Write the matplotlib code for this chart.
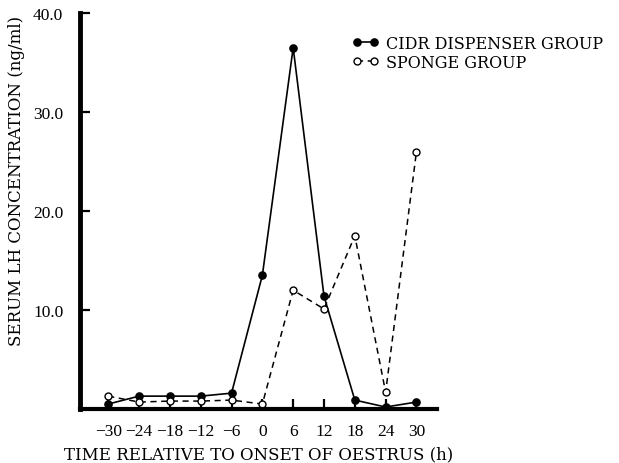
import matplotlib
matplotlib.use("Agg")
import matplotlib.pyplot as plt

hours = [-30, -24, -18, -12, -6, 0, 6, 12, 18, 24, 30]
cidr = [0.5, 1.3, 1.3, 1.3, 1.6, 13.5, 36.5, 11.4, 0.9, 0.2, 0.7]
sponge = [1.3, 0.7, 0.8, 0.8, 0.9, 0.5, 12.0, 10.1, 17.5, 1.7, 26.0]
yticks = [10, 20, 30, 40]
ytick_labels = ["10.0", "20.0", "30.0", "40.0"]
xtick_labels = ["\u221230", "\u221224", "\u221218", "\u221212", "\u22126", "0", "6", "12", "18", "24", "30"]

plt.rcParams['font.family'] = ['Liberation Serif', 'DejaVu Serif']

fig = plt.figure(figsize=(6.19, 4.64), dpi=100)
ax = fig.add_axes([80/619, 1-410/464, (437-80)/619, (410-14)/464])

ax.plot(hours, cidr, '-', color='black', lw=1.2, marker='o', ms=5.2,
        mfc='black', mec='black', label='CIDR DISPENSER GROUP')
ax.plot(hours, sponge, '--', color='black', lw=1.1, dashes=(4, 3), marker='o', ms=5,
        mfc='white', mec='black', mew=1.0, label='SPONGE GROUP')

ax.set_xlim(-35.5, 34)
ax.set_ylim(0, 40)
ax.set_xticks(hours)
ax.set_xticklabels(xtick_labels, fontsize=12.5)
ax.set_yticks(yticks)
ax.set_yticklabels(ytick_labels, fontsize=12.5)
ax.tick_params(direction='in', length=7, width=1.6)
ax.tick_params(axis='y', pad=12)
ax.tick_params(axis='x', pad=10)
for s in ['top', 'right']:
    ax.spines[s].set_visible(False)
ax.spines['left'].set_linewidth(3.5)
ax.spines['bottom'].set_linewidth(3)

ax.set_xlabel('TIME RELATIVE TO ONSET OF OESTRUS (h)', fontsize=12,
              family='DejaVu Serif', va='center')
ax.xaxis.set_label_coords(0.5, (410-455)/396)
ax.set_ylabel('SERUM LH CONCENTRATION (ng/ml)', fontsize=12, family='DejaVu Serif')
ax.yaxis.set_label_coords((25-80)/357, (410-181)/396)

leg = fig.legend(handles=ax.get_lines(), loc='upper left',
                 bbox_to_anchor=(352/619, 1-36/464), bbox_transform=fig.transFigure,
                 frameon=False, numpoints=2, handlelength=1.7, handletextpad=0.45,
                 borderpad=0, borderaxespad=0, labelspacing=0.1,
                 prop={'family': 'DejaVu Serif', 'size': 11.5})

fig.savefig('out.png', dpi=100)
